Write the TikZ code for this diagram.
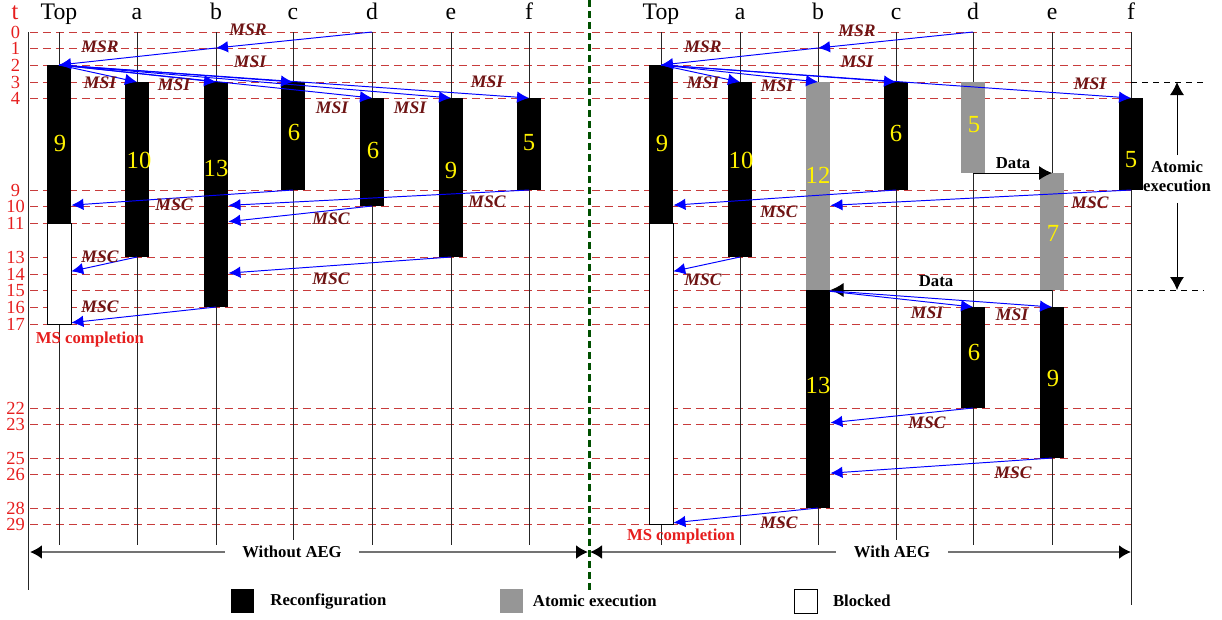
\documentclass[tikz,border=0pt]{standalone}
\usepackage{fontspec}
\setmainfont{Liberation Serif}
\usetikzlibrary{positioning,fit,arrows.meta}
\definecolor{gridred}{RGB}{200,60,60}
\definecolor{msgred}{RGB}{110,20,20}
\definecolor{aegray}{RGB}{150,150,150}
\definecolor{sepgreen}{RGB}{0,80,0}
\definecolor{tred}{RGB}{230,30,30}

% time instants and their y position (px)
\def\tlist{0/32,1/48,2/65,3/82,4/98,8/173,9/190,10/206,11/223,13/257,14/274,15/290,16/307,17/324,22/408,23/424,25/458,26/474,28/508,29/524}
\def\glist{0/32,1/48,2/65,3/82,4/98,9/190,10/206,11/223,13/257,14/274,15/290,16/307,17/324,22/408,23/424,25/458,26/474,28/508,29/524}

\tikzset{
  lifeline/.style={draw=black!85, line width=0.5pt},
  timeline/.style={draw=gridred, line width=0.5pt, dash pattern=on 0.16cm off 0.1cm},
  reconf/.style={fill=black, inner xsep=0.24cm, inner ysep=0pt},
  atomic/.style={fill=aegray, inner xsep=0.24cm, inner ysep=0pt},
  blocked/.style={draw=black, fill=white, line width=0.5pt, inner xsep=0.24cm, inner ysep=0pt},
  msg/.style={draw=blue, line width=0.55pt, -{Latex[length=0.24cm,width=0.23cm]}},
  ret/.style={msg, shorten >=0.25cm},
  data/.style={draw=black, line width=0.5pt, -{Latex[length=0.26cm,width=0.28cm]}},
  span/.style={draw=black!55, line width=1.2pt, {Latex[black,length=0.24cm,width=0.28cm]}-{Latex[black,length=0.24cm,width=0.28cm]}},
  spanlbl/.style={fill=white, inner xsep=0.35cm, font=\fontsize{9.5}{11}\selectfont\bfseries},
  hdr/.style={font=\fontsize{13.5}{15}\selectfont, inner sep=0pt},
  tlab/.style={text=tred, font=\fontsize{10.5}{12}\selectfont, inner sep=0pt},
  num/.style={text=yellow, font=\fontsize{14}{16}\selectfont, inner sep=0pt},
  lbl/.style={text=msgred, font=\fontsize{10}{12}\selectfont\bfseries\itshape, inner sep=0pt},
  note/.style={font=\fontsize{9.5}{11}\selectfont\bfseries, inner sep=1pt},
  done/.style={text=tred, font=\fontsize{9.5}{11}\selectfont\bfseries, inner sep=0pt},
  key/.style={minimum width=0.46cm, minimum height=0.48cm, inner sep=0pt},
  aeline/.style={draw=black, line width=0.5pt, dash pattern=on 0.12cm off 0.1cm},
}

\begin{document}
\begin{tikzpicture}[x=0.02cm, y=-0.02cm]
    \useasboundingbox (0,0) rectangle (1222,619);

    % Lifeline coordinates
    \foreach \cc/\xx in {top/59,a/137,b/216,c/293,d/372,e/451,f/529}{
        \foreach \ti/\yy in \tlist {\coordinate (L-\cc-\ti) at (\xx,\yy);}
        \coordinate (L-\cc-end) at (\xx,545);
    }
    \foreach \cc/\xx in {top/661,a/740,b/818,c/896,d/973,e/1052,f/1131}{
        \foreach \ti/\yy in \tlist {\coordinate (R-\cc-\ti) at (\xx,\yy);}
        \coordinate (R-\cc-end) at (\xx,545);
    }
    \coordinate (R-f-end) at (1131,605);

    % Time grid
    \node[text=tred, font=\fontsize{14}{16}\selectfont, anchor=base, inner sep=0pt] (tt) at (15,19) {t};
    \foreach \ti/\yy in \glist {
        \node[tlab] (t-\ti) at (15.5,\yy) {\ti};
        \draw[timeline] (30,\yy) -- (587,\yy);
        \draw[timeline] (592,\yy) -- (1131,\yy);
    }

    % Lifelines and headers
    \draw[lifeline] (28,32) -- (28,590);
    \foreach \cc/\lab in {top/Top,a/a,b/b,c/c,d/d,e/e,f/f}{
        \draw[lifeline] (L-\cc-0) -- (L-\cc-end);
        \draw[lifeline] (R-\cc-0) -- (R-\cc-end);
        \node[hdr, anchor=base] (hL-\cc) at (L-\cc-0 |- 0,19) {\lab};
        \node[hdr, anchor=base] (hR-\cc) at (R-\cc-0 |- 0,19) {\lab};
    }
    \draw[draw=sepgreen, line width=0.06cm, dash pattern=on 0.14cm off 0.08cm] (589,0) -- (589,590);

    % Without AEG: bars
    \node[reconf, fit=(L-top-2)(L-top-11)] (Lbar-top) {};
    \node[blocked, fit=(L-top-11)(L-top-17)] (Lblk-top) {};
    \node[reconf, fit=(L-a-3)(L-a-13)] (Lbar-a) {};
    \node[reconf, fit=(L-b-3)(L-b-16)] (Lbar-b) {};
    \node[reconf, fit=(L-c-3)(L-c-9)] (Lbar-c) {};
    \node[reconf, fit=(L-d-4)(L-d-10)] (Lbar-d) {};
    \node[reconf, fit=(L-e-4)(L-e-13)] (Lbar-e) {};
    \node[reconf, fit=(L-f-4)(L-f-9)] (Lbar-f) {};
    \node[num] (Ln-top) at (60,143) {9};
    \node[num] (Ln-a) at (139,160) {10};
    \node[num] (Ln-b) at (216,168) {13};
    \node[num] (Ln-c) at (294,132) {6};
    \node[num] (Ln-d) at (373,150) {6};
    \node[num] (Ln-e) at (451,170) {9};
    \node[num] (Ln-f) at (529,143) {5};

    % Without AEG: messages
    \draw[msg] (L-d-0) -- (L-b-1);
    \draw[msg] (L-b-1) -- (L-top-2);
    \foreach \cc/\ti in {a/3,b/3,c/3,d/4,e/4,f/4}
        \draw[msg] (L-top-2) -- (L-\cc-\ti);
    \draw[ret] (L-c-9) -- (L-top-10);
    \draw[ret] (L-f-9) -- (L-b-10);
    \draw[ret] (L-d-10) -- (L-b-11);
    \draw[ret] (L-a-13) -- (L-top-14);
    \draw[ret] (L-e-13) -- (L-b-14);
    \draw[ret] (L-b-16) -- (L-top-17);

    \node[lbl] (Lmsr1) at (248,30) {MSR};
    \node[lbl] (Lmsr2) at (100,47) {MSR};
    \node[lbl] (Lmsi-a) at (100,83) {MSI};
    \node[lbl] (Lmsi-b) at (174,85) {MSI};
    \node[lbl] (Lmsi-c) at (250,62) {MSI};
    \node[lbl] (Lmsi-d) at (332,108) {MSI};
    \node[lbl] (Lmsi-e) at (410,108) {MSI};
    \node[lbl] (Lmsi-f) at (487,82) {MSI};
    \node[lbl] (Lmsc-c) at (174,205) {MSC};
    \node[lbl] (Lmsc-f) at (487,202) {MSC};
    \node[lbl] (Lmsc-d) at (331,219) {MSC};
    \node[lbl] (Lmsc-a) at (100,257) {MSC};
    \node[lbl] (Lmsc-e) at (331,279) {MSC};
    \node[lbl] (Lmsc-b) at (100,307) {MSC};
    \node[done] (Ldone) at (90,339) {MS completion};

    % With AEG: bars
    \node[reconf, fit=(R-top-2)(R-top-11)] (Rbar-top) {};
    \node[blocked, fit=(R-top-11)(R-top-29)] (Rblk-top) {};
    \node[reconf, fit=(R-a-3)(R-a-13)] (Rbar-a) {};
    \node[atomic, fit=(R-b-3)(R-b-15)] (Rae-b) {};
    \node[reconf, fit=(R-b-15)(R-b-28)] (Rbar-b) {};
    \node[reconf, fit=(R-c-3)(R-c-9)] (Rbar-c) {};
    \node[atomic, fit=(R-d-3)(R-d-8)] (Rae-d) {};
    \node[reconf, fit=(R-d-16)(R-d-22)] (Rbar-d) {};
    \node[atomic, fit=(R-e-8)(R-e-15)] (Rae-e) {};
    \node[reconf, fit=(R-e-16)(R-e-25)] (Rbar-e) {};
    \node[reconf, fit=(R-f-4)(R-f-9)] (Rbar-f) {};
    \node[num] (Rn-top) at (662,143) {9};
    \node[num] (Rn-a) at (741,160) {10};
    \node[num] (Rn-b1) at (818,175) {12};
    \node[num] (Rn-b2) at (818,385) {13};
    \node[num] (Rn-c) at (896,133) {6};
    \node[num] (Rn-d1) at (974,125) {5};
    \node[num] (Rn-d2) at (974,352) {6};
    \node[num] (Rn-e1) at (1053,233) {7};
    \node[num] (Rn-e2) at (1053,378) {9};
    \node[num] (Rn-f) at (1131,160) {5};

    % With AEG: messages
    \draw[msg] (R-d-0) -- (R-b-1);
    \draw[msg] (R-b-1) -- (R-top-2);
    \foreach \cc/\ti in {a/3,b/3,c/3,f/4}
        \draw[msg] (R-top-2) -- (R-\cc-\ti);
    \draw[ret] (R-c-9) -- (R-top-10);
    \draw[ret] (R-f-9) -- (R-b-10);
    \draw[ret] (R-a-13) -- (R-top-14);
    \draw[data] (R-d-8) -- (R-e-8);
    \draw[data, shorten >=0.25cm] (R-e-15) -- (R-b-15);
    \draw[msg, shorten <=0.24cm] (R-b-15) -- (R-d-16);
    \draw[msg, shorten <=0.24cm] (R-b-15) -- (R-e-16);
    \draw[ret] (R-d-22) -- (R-b-23);
    \draw[ret] (R-e-25) -- (R-b-26);
    \draw[ret] (R-b-28) -- (R-top-29);

    \node[lbl] (Rmsr1) at (857,31) {MSR};
    \node[lbl] (Rmsr2) at (703,47) {MSR};
    \node[lbl] (Rmsi-a) at (703,83) {MSI};
    \node[lbl] (Rmsi-b) at (777,86) {MSI};
    \node[lbl] (Rmsi-c) at (857,62) {MSI};
    \node[lbl] (Rmsi-f) at (1090,84) {MSI};
    \node[lbl] (Rmsc-c) at (779,212) {MSC};
    \node[lbl] (Rmsc-f) at (1090,203) {MSC};
    \node[lbl] (Rmsc-a) at (703,280) {MSC};
    \node[lbl] (Rmsi-d) at (927,313) {MSI};
    \node[lbl] (Rmsi-e) at (1012,315) {MSI};
    \node[lbl] (Rmsc-d) at (927,423) {MSC};
    \node[lbl] (Rmsc-e) at (1013,473) {MSC};
    \node[lbl] (Rmsc-b) at (779,523) {MSC};
    \node[note] (data1) at (1013,163) {Data};
    \node[note] (data2) at (936,281) {Data};
    \node[done] (Rdone) at (681,536) {MS completion};

    % Atomic execution span
    \coordinate (ae-t) at (1204,82);
    \coordinate (ae-b) at (1204,290);
    \draw[aeline] (R-f-3) -- (ae-t);
    \draw[aeline] ([xshift=0.12cm]R-f-15) -- (ae-b);
    \node[note, align=center, inner ysep=0.1cm] (ae) at (1177,176) {Atomic\\execution};
    \draw[data] (ae.north) -- (ae.north |- R-f-3);
    \draw[data, shorten <=0.12cm] (ae.south) -- (ae.south |- R-f-15);

    % Without / With AEG spans
    \coordinate (wo-l) at (30,552);
    \coordinate (wo-r) at (588,552);
    \coordinate (wi-l) at (590,552);
    \coordinate (wi-r) at (1131,552);
    \draw[span] (wo-l) -- (wo-r);
    \draw[span] (wi-l) -- (wi-r);
    \node[spanlbl] (wo) at (292,552) {Without AEG};
    \node[spanlbl] (wi) at (892,552) {With AEG};

    % Legend
    \node[key, fill=black] (key-rec) at (242.5,601) {};
    \node[note, right=0.28cm of key-rec] (lg-rec) {Reconfiguration};
    \node[key, fill=aegray] (key-ae) at (511.5,601) {};
    \node[note, right=0.15cm of key-ae] (lg-ae) {Atomic execution};
    \node[key, draw=black, fill=white, line width=0.5pt] (key-blk) at (805.5,601) {};
    \node[note, right=0.27cm of key-blk] (lg-blk) {Blocked};
\end{tikzpicture}
\end{document}
